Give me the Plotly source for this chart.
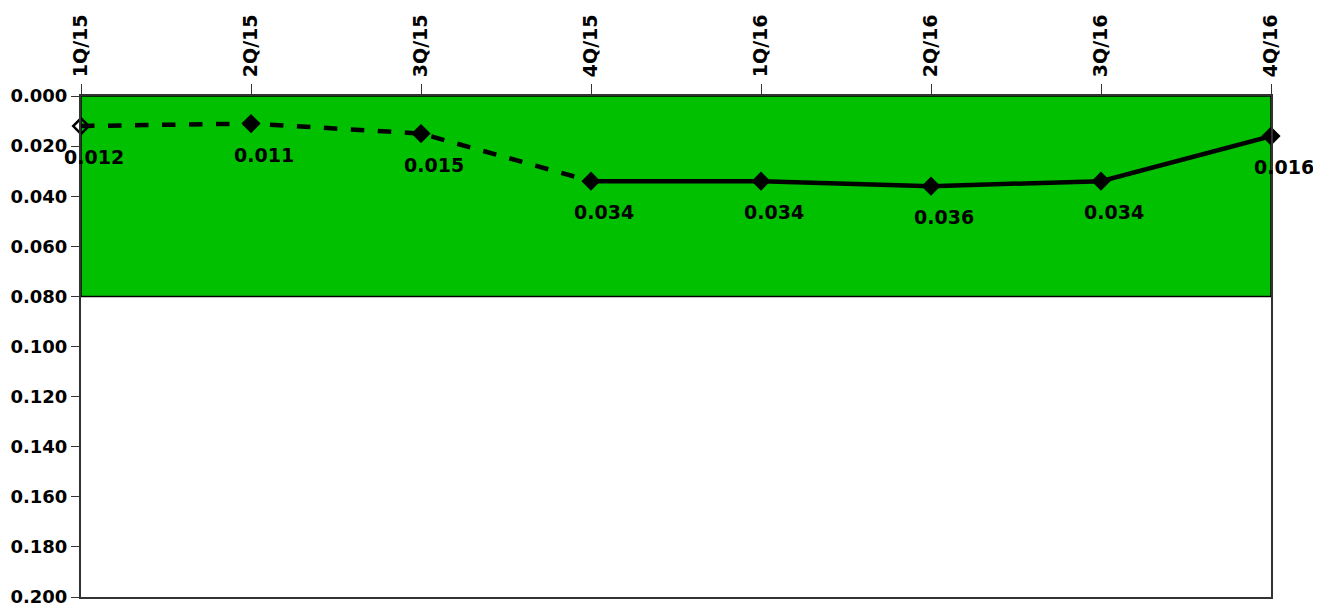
import plotly.graph_objects as go

categories = ["1Q/15", "2Q/15", "3Q/15", "4Q/15", "1Q/16", "2Q/16", "3Q/16", "4Q/16"]
values = [0.012, 0.011, 0.015, 0.034, 0.034, 0.036, 0.034, 0.016]
dashed_n = 4  # first points drawn dashed
band_low, band_high = 0.0, 0.080
y_ticks = [0.000, 0.020, 0.040, 0.060, 0.080, 0.100, 0.120, 0.140, 0.160, 0.180, 0.200]

xs = list(range(len(categories)))
font = dict(family="DejaVu Sans, Arial, sans-serif", size=19, color="black")
yfont = dict(family="DejaVu Sans, Arial, sans-serif", size=18, color="black")

fig = go.Figure()
fig.add_shape(type="rect", xref="x", yref="y", x0=0, x1=len(categories) - 1,
              y0=band_low, y1=band_high, fillcolor="#00C000",
              line=dict(color="black", width=1.5), layer="below")

fig.add_trace(go.Scatter(x=xs[:dashed_n], y=values[:dashed_n], mode="lines",
                         line=dict(color="black", width=4.5, dash="dash"), showlegend=False))
fig.add_trace(go.Scatter(x=xs[dashed_n - 1:], y=values[dashed_n - 1:], mode="lines",
                         line=dict(color="black", width=4.5), showlegend=False))
symbols = ["diamond-open"] + ["diamond"] * (len(values) - 1)
fig.add_trace(go.Scatter(x=xs, y=values, mode="markers",
                         marker=dict(symbol=symbols, size=12, color="black",
                                     line=dict(color="black", width=2.5)),
                         showlegend=False, cliponaxis=False))

for x, v in zip(xs, values):
    fig.add_annotation(x=x, y=v, xref="x", yref="y", text=f"<b>{v:.3f}</b>", showarrow=False,
                       xshift=13, yshift=-31, font=font)

fig.update_layout(
    width=1321, height=607, margin=dict(l=73, r=58, t=88, b=18),
    plot_bgcolor="white", paper_bgcolor="white", font=font,
    xaxis=dict(side="top", range=[0, len(categories) - 1], tickmode="array",
               tickvals=xs, ticktext=[f"<b>{c}</b>" for c in categories],
               tickangle=-90, ticks="outside", ticklen=10, tickcolor="#333",
               ticklabelstandoff=3,
               showgrid=False, zeroline=False, showline=True, linecolor="#333",
               linewidth=2, mirror=True, tickfont=font, automargin=False),
    yaxis=dict(range=[0.2, 0.0], tickmode="array", tickvals=y_ticks,
               ticktext=[f"<b>{t:.3f}</b>" for t in y_ticks],
               ticks="outside", ticklen=8, tickcolor="#333", showgrid=False,
               zeroline=False, showline=True, linecolor="#333", linewidth=2,
               mirror=True, tickfont=yfont, automargin=False),
)

fig.write_html("out.html")
